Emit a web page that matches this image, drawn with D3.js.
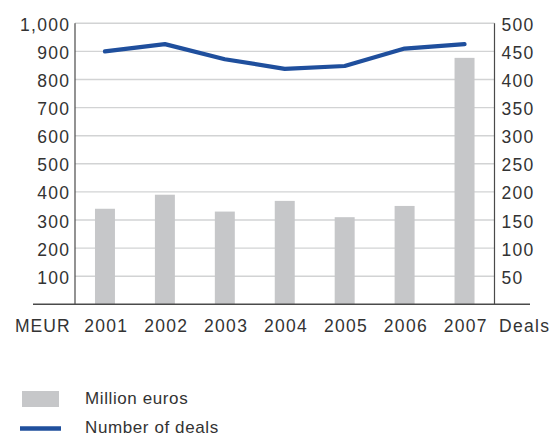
<!DOCTYPE html>
<html>
<head>
<meta charset="utf-8">
<script src="https://cdn.jsdelivr.net/npm/d3@7/dist/d3.min.js"></script>
<style>
  html, body { margin: 0; padding: 0; background: #fff; }
  svg { display: block; }
  text { font-family: "Liberation Sans", Arial, Helvetica, sans-serif; fill: #333; }
</style>
</head>
<body>
<svg id="chart" width="553" height="436"></svg>
<script>
const years = ["2001", "2002", "2003", "2004", "2005", "2006", "2007"];
const millionEuros = [340, 390, 330, 368, 310, 350, 877];
const numberOfDeals = [450, 463, 436, 419, 424, 455, 463];
const leftTicks = [100, 200, 300, 400, 500, 600, 700, 800, 900, 1000];
const rightTicks = [50, 100, 150, 200, 250, 300, 350, 400, 450, 500];
const legendLabels = ["Million euros", "Number of deals"];
const leftUnit = "MEUR";
const rightUnit = "Deals";

const svg = d3.select("#chart");
const x0 = 75, x1 = 494.5, yTop = 23.3, yBot = 304.3;
const fs = 17.5;

const x = d3.scaleBand().domain(years).range([x0, x1]).padding(0);
const yL = d3.scaleLinear().domain([0, 1000]).range([yBot, yTop]);
const yR = d3.scaleLinear().domain([0, 500]).range([yBot, yTop]);

// gridlines
svg.append("g").selectAll("line").data(leftTicks).join("line")
  .attr("x1", x0).attr("x2", x1)
  .attr("y1", d => yL(d)).attr("y2", d => yL(d))
  .attr("stroke", "#d2d3d4").attr("stroke-width", 1.4);

// bars
const bw = x.bandwidth() / 3;
svg.append("g").selectAll("rect").data(years).join("rect")
  .attr("x", d => x(d) + x.bandwidth() / 2 - bw / 2)
  .attr("width", bw)
  .attr("y", (d, i) => yL(millionEuros[i]))
  .attr("height", (d, i) => yBot - yL(millionEuros[i]))
  .attr("fill", "#c6c7c9");

// axes lines
const axisColor = "#4a4a4a";
svg.append("line").attr("x1", x0).attr("x2", x0).attr("y1", yTop).attr("y2", yBot)
  .attr("stroke", axisColor).attr("stroke-width", 1.2);
svg.append("line").attr("x1", x1).attr("x2", x1).attr("y1", yTop).attr("y2", yBot)
  .attr("stroke", axisColor).attr("stroke-width", 1.2);
svg.append("line").attr("x1", 33).attr("x2", 530).attr("y1", yBot).attr("y2", yBot)
  .attr("stroke", axisColor).attr("stroke-width", 1.4);

// left axis labels
const leftAxis = d3.axisLeft(yL).tickValues(leftTicks).tickSize(0).tickPadding(0)
  .tickFormat(d3.format(","));
const gL = svg.append("g").attr("transform", `translate(${x0 - 6},0)`).call(leftAxis);
gL.select(".domain").remove();
gL.selectAll("text").attr("font-size", fs).attr("fill", "#333")
  .attr("font-family", "Liberation Sans, Arial, sans-serif")
  .style("letter-spacing", "1.3px").attr("dx", "1.3px").attr("dy", "0.4em");

// right axis labels
const rightAxis = d3.axisRight(yR).tickValues(rightTicks).tickSize(0).tickPadding(0);
const gR = svg.append("g").attr("transform", `translate(${x1 + 7},0)`).call(rightAxis);
gR.select(".domain").remove();
gR.selectAll("text").attr("font-size", fs).attr("fill", "#333")
  .attr("font-family", "Liberation Sans, Arial, sans-serif")
  .style("letter-spacing", "1.3px").attr("dy", "0.4em");

// x labels
const xAxis = d3.axisBottom(x).tickSize(0).tickPadding(0);
const gX = svg.append("g").attr("transform", `translate(0,${yBot})`).call(xAxis);
gX.select(".domain").remove();
gX.selectAll("text").attr("font-size", fs).attr("fill", "#333")
  .attr("font-family", "Liberation Sans, Arial, sans-serif")
  .style("letter-spacing", "1.3px").attr("dx", "1.3px")
  .attr("y", 28).attr("dy", 0);

svg.append("text").attr("x", 15).attr("y", yBot + 28).attr("font-size", fs)
  .style("letter-spacing", "1px").text(leftUnit);
svg.append("text").attr("x", 499).attr("y", yBot + 28).attr("font-size", fs)
  .style("letter-spacing", "1.3px").text(rightUnit);

// line
const line = d3.line()
  .x((d, i) => x(years[i]) + x.bandwidth() / 2)
  .y(d => yR(d));
svg.append("path").datum(numberOfDeals)
  .attr("d", line)
  .attr("fill", "none").attr("stroke", "#1f4f9d").attr("stroke-width", 4.2)
  .attr("stroke-linejoin", "round").attr("stroke-linecap", "round");

// legend
svg.append("rect").attr("x", 22).attr("y", 391).attr("width", 37).attr("height", 16)
  .attr("fill", "#c6c7c9");
svg.append("line").attr("x1", 20).attr("x2", 61).attr("y1", 428.5).attr("y2", 428.5)
  .attr("stroke", "#1f4f9d").attr("stroke-width", 4.5);
svg.selectAll("text.leg").data(legendLabels).join("text").attr("class", "leg")
  .attr("x", 85).attr("y", (d, i) => 404 + i * 29)
  .attr("font-size", 17).style("letter-spacing", "0.6px")
  .text(d => d);
</script>
</body>
</html>
